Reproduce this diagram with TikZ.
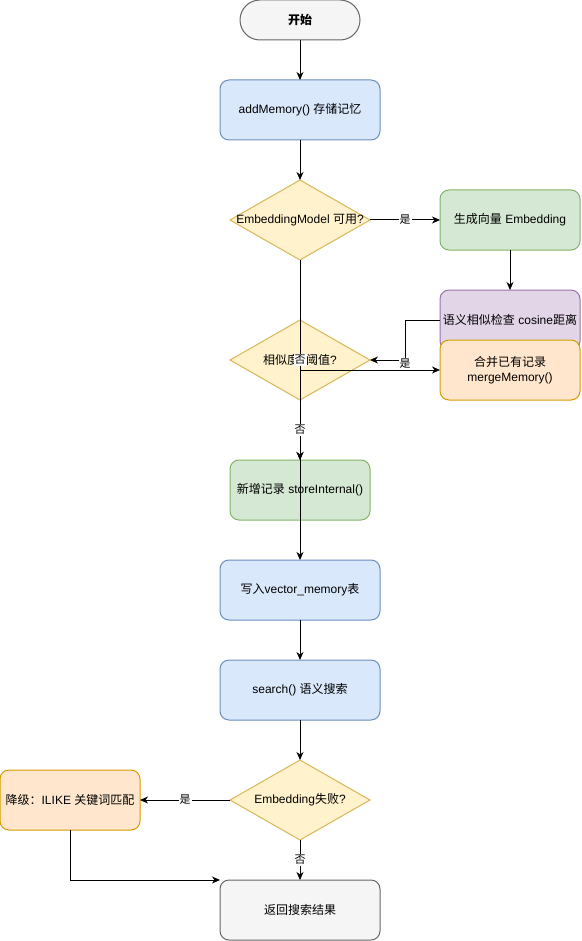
\documentclass[tikz,border=0pt]{standalone}
\usepackage{fontspec}
\setmainfont{Liberation Sans}
\newfontfamily\cjk{Noto Sans CJK SC}
\usetikzlibrary{arrows.meta,shapes.geometric}
\definecolor{gfill}{HTML}{F5F5F5}\definecolor{gdraw}{HTML}{666666}
\definecolor{bfill}{HTML}{DAE8FC}\definecolor{bdraw}{HTML}{6C8EBF}
\definecolor{yfill}{HTML}{FFF2CC}\definecolor{ydraw}{HTML}{D6B656}
\definecolor{nfill}{HTML}{D5E8D4}\definecolor{ndraw}{HTML}{82B366}
\definecolor{pfill}{HTML}{E1D5E7}\definecolor{pdraw}{HTML}{9673A6}
\definecolor{ofill}{HTML}{FFE6CC}\definecolor{odraw}{HTML}{D79B00}
\newcommand\zhtxt[1]{{\cjk #1}}
\begin{document}
\begin{tikzpicture}[x=1pt,y=-1pt,
  box/.style={rectangle, rounded corners=9pt, draw, line width=1pt, outer sep=0pt,
    minimum width=160pt, minimum height=60pt, inner sep=0pt,
    font=\fontsize{12}{15}\selectfont, align=center, text=black},
  blue/.style={box, fill=bfill, draw=bdraw},
  green/.style={box, fill=nfill, draw=ndraw},
  purple/.style={box, fill=pfill, draw=pdraw},
  orange/.style={box, fill=ofill, draw=odraw},
  grey/.style={box, fill=gfill, draw=gdraw},
  dia/.style={diamond, draw=ydraw, fill=yfill, line width=1pt, outer sep=0pt,
    minimum width=140pt, minimum height=80pt, inner sep=0pt,
    font=\fontsize{12}{15}\selectfont},
  arr/.style={-{Stealth[length=8pt,width=7pt,inset=2.5pt]}, line width=1pt},
  lab/.style={fill=white, inner sep=1pt, font=\fontsize{11}{13}\selectfont\cjk}]
\useasboundingbox (0,0) rectangle (581,941);

\node[grey, rounded corners=20pt, minimum width=120pt, minimum height=40pt] (start) at (300,20) {\cjk\bfseries 开始};
\node[blue] (add) at (300,110) {addMemory() \zhtxt{存储记忆}};
\node[dia] (d1) at (300,220) {\makebox[0pt]{EmbeddingModel \zhtxt{可用}?}};
\node[green, minimum width=140pt] (gen) at (510,220) {\zhtxt{生成向量} Embedding};
\node[purple, minimum width=140pt] (sim) at (510,320) {\zhtxt{语义相似检查} cosine\zhtxt{距离}};
\node[orange, minimum width=140pt] (merge) at (510,370) {\zhtxt{合并已有记录}\\mergeMemory()};
\node[dia] (d2) at (300,360) {\makebox[0pt]{\zhtxt{相似度}>\zhtxt{阈值}?}};
\node[green, minimum width=140pt] (store) at (300,490) {\zhtxt{新增记录} storeInternal()};
\node[blue] (write) at (300,590) {\zhtxt{写入}vector\_memory\zhtxt{表}};
\node[blue] (search) at (300,690) {search() \zhtxt{语义搜索}};
\node[dia] (d3) at (300,800) {\makebox[0pt]{Embedding\zhtxt{失败}?}};
\node[orange, minimum width=140pt] (deg) at (70,800) {\zhtxt{降级：}ILIKE \zhtxt{关键词匹配}};
\node[grey] (ret) at (300,910) {\zhtxt{返回搜索结果}};

\coordinate (j) at (300,370);
\draw[arr] (start) -- (add);
\draw[arr] (add) -- (d1);
\draw[arr] (d1.east) -- node[lab]{是} (gen.west);
\draw[arr] (gen) -- (sim);
\draw[arr] (j) -- (merge.west);
\draw[arr] (j) -- (write.north);
\draw[arr] (sim.west) -- ++(-35,0) |- node[lab, pos=0.5, yshift=-4pt]{是} (d2.east);
\draw[arr] (d1.south) -- node[lab]{否} (store.north);
\draw[arr] (d2.south) -- node[lab]{否} (store.north);
\draw[arr] (write) -- (search);
\draw[arr] (search) -- (d3);
\draw[arr] (d3.west) -- node[lab]{是} (deg.east);
\draw[arr] (d3.south) -- node[lab]{否} (ret.north);
\draw[arr] (deg.south) |- (ret.north west);
\end{tikzpicture}
\end{document}
